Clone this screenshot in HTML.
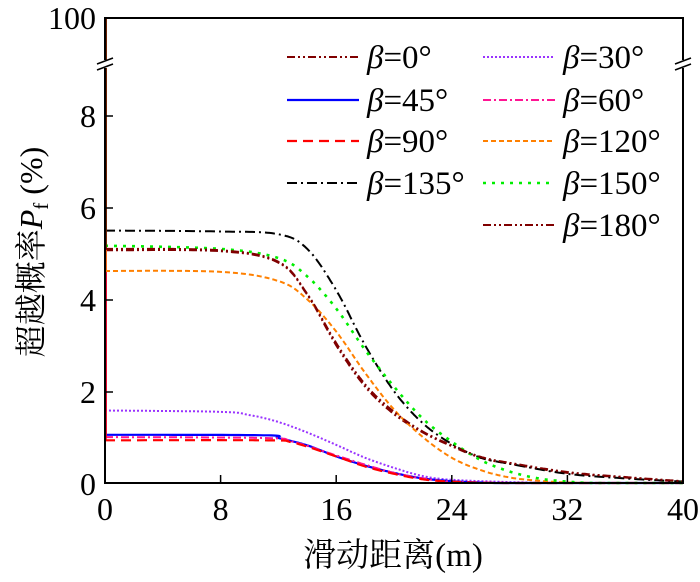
<!DOCTYPE html>
<html><head><meta charset="utf-8"><style>
html,body{margin:0;padding:0;background:#fff;}
svg{display:block;}
svg text, svg tspan{font-family:"Liberation Serif","Times New Roman",Times,serif;}
svg text.cjk{font-family:"Liberation Serif","Noto Serif CJK SC",serif;}
</style></head><body>
<svg id="s" width="700" height="582" viewBox="0 0 700 582" xmlns="http://www.w3.org/2000/svg">
<g id="curves"></g>
<rect x="105" y="18" width="578" height="465" fill="none" stroke="#000" stroke-width="2"/>
<g stroke="#000" stroke-width="1.5">
<rect x="99" y="60" width="12" height="8" fill="#fff" stroke="none"/>
<line x1="97" y1="64" x2="113" y2="58"/><line x1="97" y1="70" x2="113" y2="64"/>
<rect x="677" y="60" width="12" height="8" fill="#fff" stroke="none"/>
<line x1="675" y1="64" x2="691" y2="58"/><line x1="675" y1="70" x2="691" y2="64"/>
</g>
<g stroke="#000" stroke-width="1.5">
<line x1="105" y1="116" x2="113" y2="116"/><line x1="105" y1="208" x2="113" y2="208"/>
<line x1="105" y1="300" x2="113" y2="300"/><line x1="105" y1="392" x2="113" y2="392"/>
<line x1="220.6" y1="483" x2="220.6" y2="475"/><line x1="336.2" y1="483" x2="336.2" y2="475"/>
<line x1="451.8" y1="483" x2="451.8" y2="475"/><line x1="567.4" y1="483" x2="567.4" y2="475"/>
</g>
<g font-size="32" text-anchor="end">
<text x="96" y="29">100</text>
<text x="96" y="127">8</text><text x="96" y="219">6</text><text x="96" y="311">4</text>
<text x="96" y="403">2</text><text x="96" y="495">0</text>
</g>
<g font-size="32" text-anchor="middle">
<text x="105" y="520">0</text><text x="220.6" y="520">8</text><text x="336.2" y="520">16</text>
<text x="451.8" y="520">24</text><text x="567.4" y="520">32</text><text x="683" y="520">40</text>
</g>
<text class="cjk" x="393" y="566" font-size="33" text-anchor="middle">滑动距离(m)</text>
<text class="cjk" transform="translate(42,252) rotate(-90)" font-size="32" text-anchor="middle">超越概率<tspan font-style="italic">P</tspan><tspan font-size="21" dy="6">f</tspan><tspan dy="-6"> (%)</tspan></text>
<g id="legend" font-size="33"></g>
</svg>
<script>
var X=function(v){return 105+v*578/40;}, Y=function(v){return 483-v*45.9;};
var S=[
{n:"0",c:"#800000",d:"8 3 2 3 2 3",w:2,p:[[0,5.07],[8,5.05],[12,4.8],[14,4.1],[16,3.0],[18,2.1],[20,1.5],[22,1.1],[24,0.8],[26,0.55],[28,0.42],[32,0.22],[36,0.12],[40,0.03]],lx:287,ly:57},
{n:"30",c:"#9933FF",d:"2 2",w:2,p:[[0,1.58],[8,1.55],[10,1.48],[12,1.33],[14,1.1],[16,0.83],[18,0.55],[20,0.33],[22,0.15],[24,0.07],[28,0.02],[32,0],[40,0]],lx:483,ly:57},
{n:"45",c:"#0000FF",d:"",w:2.2,p:[[0,1.05],[11,1.04],[12,0.98],[14,0.82],[16,0.58],[18,0.38],[20,0.22],[22,0.1],[24,0.04],[26,0.01],[28,0],[40,0]],lx:287,ly:100},
{n:"60",c:"#FF1493",d:"8 3 2 3",w:2,p:[[0,1.0],[11,0.98],[13,0.9],[16,0.6],[18,0.4],[20,0.22],[22,0.1],[24,0.03],[28,0],[40,0]],lx:483,ly:100},
{n:"90",c:"#FF0000",d:"10 6",w:2.2,p:[[0,0.93],[11,0.93],[13,0.88],[16,0.58],[18,0.36],[20,0.2],[22,0.08],[24,0.03],[28,0],[40,0]],lx:287,ly:141},
{n:"120",c:"#FF8000",d:"5 3",w:2,p:[[0,4.62],[8,4.6],[12,4.4],[14,4.0],[16,3.3],[18,2.4],[20,1.6],[22,1.0],[24,0.55],[26,0.28],[28,0.12],[30,0.05],[32,0.01],[34,0],[40,0]],lx:483,ly:141},
{n:"135",c:"#000000",d:"10 4 2 4",w:2,p:[[0,5.5],[8,5.48],[12,5.42],[14,5.1],[16,4.2],[18,3.0],[20,2.0],[22,1.3],[24,0.85],[26,0.55],[28,0.42],[32,0.2],[36,0.1],[40,0.03]],lx:287,ly:183},
{n:"150",c:"#00EE00",d:"3 6",w:2.6,p:[[0,5.17],[8,5.1],[12,4.9],[14,4.5],[16,3.8],[18,2.9],[20,2.1],[22,1.4],[24,0.9],[26,0.5],[28,0.25],[30,0.1],[32,0.03],[34,0],[40,0]],lx:483,ly:183},
{n:"180",c:"#800000",d:"8 3 2 3 2 3",w:2,p:[[0,5.1],[8,5.07],[12,4.82],[14,4.12],[16,3.05],[18,2.15],[20,1.55],[22,1.12],[24,0.82],[26,0.57],[28,0.44],[32,0.24],[36,0.13],[40,0.04]],lx:483,ly:225}
];
var ns="http://www.w3.org/2000/svg",g=document.getElementById("curves"),lg=document.getElementById("legend");
function cr(p){var pts=[];for(var i=0;i<p.length-1;i++){var p0=p[Math.max(i-1,0)],p1=p[i],p2=p[i+1],p3=p[Math.min(i+2,p.length-1)];
for(var t=0;t<1;t+=0.05){var t2=t*t,t3=t2*t;var f=function(a,b,c,d){return 0.5*(2*b+(-a+c)*t+(2*a-5*b+4*c-d)*t2+(-a+3*b-3*c+d)*t3);};
var x=f(p0[0],p1[0],p2[0],p3[0]),y=Math.max(0,f(p0[1],p1[1],p2[1],p3[1]));pts.push(X(x).toFixed(1)+","+Y(y).toFixed(1));}}
var l=p[p.length-1];pts.push(X(l[0])+","+Y(l[1]));return pts;}
S.forEach(function(s){
var v=document.createElementNS(ns,"line");v.setAttribute("x1",106);v.setAttribute("x2",106);v.setAttribute("y1",19);v.setAttribute("y2",Y(s.p[0][1]));
v.setAttribute("stroke",s.c);v.setAttribute("stroke-width",1.5);g.appendChild(v);
var pl=document.createElementNS(ns,"polyline");
pl.setAttribute("points",cr(s.p).join(" "));pl.setAttribute("fill","none");pl.setAttribute("stroke",s.c);
pl.setAttribute("stroke-width",s.w);if(s.d)pl.setAttribute("stroke-dasharray",s.d);g.appendChild(pl);
var ln=document.createElementNS(ns,"line");ln.setAttribute("x1",s.lx);ln.setAttribute("x2",s.lx+72);
ln.setAttribute("y1",s.ly);ln.setAttribute("y2",s.ly);ln.setAttribute("stroke",s.c);ln.setAttribute("stroke-width",s.w);
if(s.d)ln.setAttribute("stroke-dasharray",s.d);lg.appendChild(ln);
var tx=document.createElementNS(ns,"text");tx.setAttribute("x",s.lx+80);tx.setAttribute("y",s.ly+11);
tx.innerHTML='<tspan font-style="italic">β</tspan>=' + s.n + '°';lg.appendChild(tx);
});
</script>
</body></html>
